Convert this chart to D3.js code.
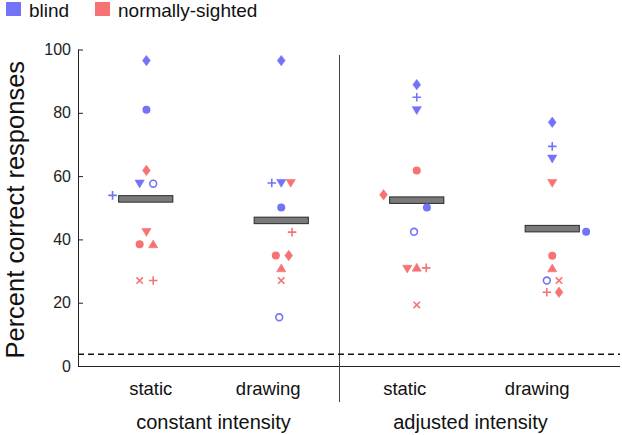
<!DOCTYPE html>
<html>
<head>
<meta charset="utf-8">
<script src="https://cdn.jsdelivr.net/npm/d3@7"></script>
<style>
  body { margin: 0; background: #fff; }
  svg { display: block; font-family: "Liberation Sans", Arial, sans-serif; }
</style>
</head>
<body>
<svg id="chart" width="622" height="435"></svg>
<script>
// ---------------- data ----------------
const categories = ["static", "drawing", "static", "drawing"];
const conditions = ["constant intensity", "adjusted intensity"];
const medians = [52.8, 46.0, 52.4, 43.4];
const chanceLevel = 3.7;
const yTicks = [0, 20, 40, 60, 80, 100];

const legendLabels = ["blind", "normally-sighted"];

const blindShapes = ["diamond", "circle", "triangleDown", "openCircle", "plus"];
const blindValues = [
  [96.5, 81.0, 57.6, 57.6, 53.9],
  [96.5, 50.1, 57.8, 15.4, 57.8],
  [88.9, 50.1, 80.8, 42.4, 84.9],
  [77.0, 42.4, 65.5, 27.0, 69.4]
];
const blindJitter = [
  [0.1, 0.1, -0.9, 1.1, -4.9],
  [0, 0, 0, -0.3, -1.4],
  [0, 1.5, 0, -0.4, 0],
  [0, 5.0, 0, -0.8, 0]
];

const sightedShapes = ["diamond", "triangleDown", "circle", "triangleUp", "cross", "plus"];
const sightedValues = [
  [61.8, 42.3, 38.5, 38.5, 27.0, 27.0],
  [34.9, 57.8, 34.9, 30.9, 27.0, 42.3],
  [54.1, 30.7, 61.8, 31.1, 19.3, 31.0],
  [23.3, 57.8, 34.8, 30.9, 27.0, 23.3]
];
const sightedJitter = [
  [0.1, 0.1, -0.9, 1.1, -0.9, 1.1],
  [1.1, 1.4, -0.8, 0, 0, 1.6],
  [-4.9, -1.4, 0, 0, 0, 1.4],
  [1.0, 0, 0, 0, 1.0, -0.8]
];

// ---------------- styles ----------------
const colors = { blind: "#7373f7", sighted: "#f77373" };

const svg = d3.select("#chart");
const plotLeft = 78, plotRight = 620, plotTop = 49.5, plotBottom = 366;

const x = d3.scaleLinear().domain([0, 4]).range([plotLeft, plotRight]);
const y = d3.scaleLinear().domain([0, 100]).range([plotBottom, plotTop]);
const jitterUnit = 0.05; // in x-domain units

// build points table
const points = [];
categories.forEach((c, g) => {
  blindShapes.forEach((s, i) => points.push({ g, group: "blind", shape: s, v: blindValues[g][i], j: blindJitter[g][i] }));
  sightedShapes.forEach((s, i) => points.push({ g, group: "sighted", shape: s, v: sightedValues[g][i], j: sightedJitter[g][i] }));
});

// ---------------- axes ----------------
const yAxis = d3.axisRight(y).tickValues(yTicks).tickSize(5).tickFormat(d3.format("d"));
const yg = svg.append("g").attr("transform", `translate(${plotLeft},0)`).call(yAxis);
yg.select(".domain").attr("d", `M0.5,${plotTop}V${plotBottom}`).attr("stroke", "#222");
yg.selectAll(".tick line").attr("stroke", "#222");
yg.selectAll(".tick text")
  .attr("x", -7).attr("text-anchor", "end")
  .attr("font-size", 16).attr("fill", "#222")
  .attr("font-family", '"Liberation Sans", Arial, sans-serif');

// x axis baseline
svg.append("line")
  .attr("x1", plotLeft).attr("x2", plotRight)
  .attr("y1", y(0) + 0.5).attr("y2", y(0) + 0.5)
  .attr("stroke", "#222").attr("stroke-width", 1);

// divider
svg.append("line")
  .attr("x1", x(1.93)).attr("x2", x(1.93))
  .attr("y1", 55).attr("y2", 402)
  .attr("stroke", "#444").attr("stroke-width", 1);

// chance line
svg.append("line")
  .attr("x1", plotLeft).attr("x2", plotRight)
  .attr("y1", y(chanceLevel)).attr("y2", y(chanceLevel))
  .attr("stroke", "#111").attr("stroke-width", 1.6)
  .attr("stroke-dasharray", "6,4");

// category labels
const labelShift = [5, -13, -12, -15];
svg.selectAll("text.cat").data(categories).join("text")
  .attr("class", "cat")
  .attr("x", (d, i) => x(i + 0.5) + labelShift[i])
  .attr("y", 395)
  .attr("text-anchor", "middle")
  .attr("font-size", 18.5).attr("fill", "#111")
  .text(d => d);

const condShift = [0, -14];
svg.selectAll("text.cond").data(conditions).join("text")
  .attr("class", "cond")
  .attr("x", (d, i) => x(i * 2 + 1) + condShift[i])
  .attr("y", 429)
  .attr("text-anchor", "middle")
  .attr("font-size", 20).attr("fill", "#111")
  .text(d => d);

// y label
svg.append("text")
  .attr("transform", `translate(24,${(plotTop + plotBottom) / 2 + 2}) rotate(-90)`)
  .attr("text-anchor", "middle")
  .attr("font-size", 25.5).attr("fill", "#111")
  .text("Percent correct responses");

// ---------------- medians ----------------
const barW = 0.4, barH = 6.5;
svg.selectAll("rect.med").data(medians).join("rect")
  .attr("class", "med")
  .attr("x", (d, i) => x(i + 0.5 - barW / 2))
  .attr("width", x(barW) - x(0))
  .attr("y", d => y(d) - barH / 2)
  .attr("height", barH)
  .attr("fill", "#7a7a7a")
  .attr("stroke", "#2a2a2a").attr("stroke-width", 1);

// ---------------- points ----------------
function shapePath(s) {
  switch (s) {
    case "diamond": return "M0,-5.2L3.9,0L0,5.2L-3.9,0Z";
    case "triangleDown": return "M-4.6,-3.6L4.6,-3.6L0,4.2Z";
    case "triangleUp": return "M-4.6,3.6L4.6,3.6L0,-4.2Z";
    case "plus": return "M-4.3,0H4.3M0,-4.3V4.3";
    case "cross": return "M-3.2,-3.2L3.2,3.2M-3.2,3.2L3.2,-3.2";
    default: return null;
  }
}

const pg = svg.append("g");
points.forEach(p => {
  const cx = x(p.g + 0.5 + p.j * jitterUnit);
  const cy = y(p.v);
  const col = colors[p.group];
  if (p.shape === "circle") {
    pg.append("circle").attr("cx", cx).attr("cy", cy).attr("r", 4).attr("fill", col);
  } else if (p.shape === "openCircle") {
    pg.append("circle").attr("cx", cx).attr("cy", cy).attr("r", 3.4)
      .attr("fill", "none").attr("stroke", col).attr("stroke-width", 1.6);
  } else if (p.shape === "plus" || p.shape === "cross") {
    pg.append("path").attr("d", shapePath(p.shape))
      .attr("transform", `translate(${cx},${cy})`)
      .attr("fill", "none").attr("stroke", col).attr("stroke-width", 1.6);
  } else {
    pg.append("path").attr("d", shapePath(p.shape))
      .attr("transform", `translate(${cx},${cy})`)
      .attr("fill", col).attr("stroke", col).attr("stroke-width", 0.6).attr("stroke-linejoin", "round");
  }
});

// ---------------- legend ----------------
const legendX = [6, 95];
const legendKeys = ["blind", "sighted"];
legendLabels.forEach((lab, i) => {
  svg.append("rect").attr("x", legendX[i]).attr("y", 2).attr("width", 15).attr("height", 14)
    .attr("fill", colors[legendKeys[i]]);
  svg.append("text").attr("x", legendX[i] + 23).attr("y", 16.5)
    .attr("font-size", 19).attr("fill", "#111").text(lab);
});
</script>
</body>
</html>
